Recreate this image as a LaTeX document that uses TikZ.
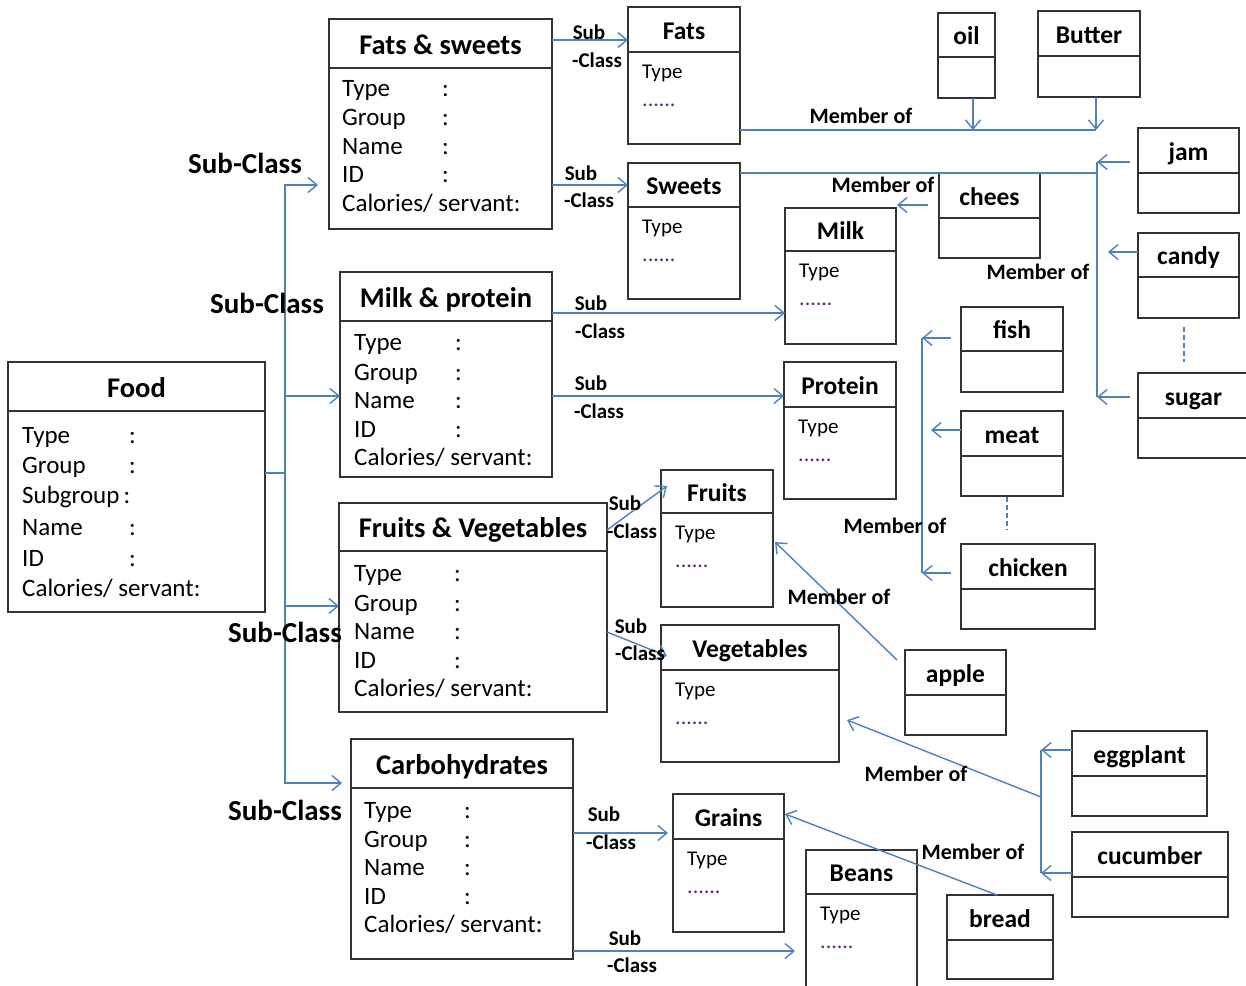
\documentclass[tikz,border=0pt]{standalone}
\usepackage{fontspec}
\setmainfont{Carlito}
\usetikzlibrary{arrows.meta}
\definecolor{conn}{RGB}{79,129,189}
\definecolor{dotc}{RGB}{90,40,110}
\tikzset{
  box/.style={draw=black!80, line width=1.8pt, inner sep=0pt, outer sep=0pt},
  ttl/.style={font=\fontsize{28.5}{30}\selectfont\bfseries, anchor=base, yshift=-9pt, inner sep=0pt},
  sttl/.style={font=\fontsize{25.5}{27}\selectfont\bfseries, anchor=base, yshift=-8pt, inner sep=0pt},
  attr/.style={font=\fontsize{25}{27}\selectfont, anchor=base west, yshift=-8pt, inner sep=0pt},
  sattr/.style={font=\fontsize{21}{23}\selectfont, anchor=base west, yshift=-6.7pt, inner sep=0pt},
  dotsty/.style={font=\fontsize{22}{23}\selectfont, text=dotc, anchor=base west, yshift=-3pt, inner sep=0pt},
  lbl/.style={font=\fontsize{21}{23}\selectfont\bfseries, inner sep=0pt},
  biglbl/.style={font=\fontsize{29}{31}\selectfont\bfseries, inner sep=0pt},
  mem/.style={font=\fontsize{22}{24}\selectfont\bfseries, inner sep=0pt},
  line/.style={draw=conn, line width=1.4pt},
  arr/.style={line, -{Straight Barb[length=9pt,width=15pt]}},
  dashln/.style={draw=conn, line width=1.2pt, dash pattern=on 5pt off 3pt},
}
\newcommand\clsbox[7]{%
  \node[box, anchor=north west, minimum width={#4-#2}, minimum height={#5-#3}] (#1) at (#2,#3) {};
  \draw[box] (#2,#6) -- (#4,#6);
}
\newcommand\bigcls[7]{%
  \clsbox{#1}{#2}{#3}{#4}{#5}{#6}{}%
  \node[ttl] (#1-t) at ({(#2+#4)/2},{(#3+#6)/2+1.5}) {#7};
}
\newcommand\smallcls[7]{%
  \clsbox{#1}{#2}{#3}{#4}{#5}{#6}{}%
  \node[sttl] (#1-t) at ({(#2+#4)/2},{(#3+#6)/2+1.5}) {#7};
}
\newcommand\typedots[3]{% name, x1, header y
  \node[sattr] (#1-ty) at ({#2+14},{#3+20}) {Type};
  \node[dotsty] (#1-dt) at ({#2+14},{#3+51}) {......};
}
\newcommand\bigattrs[8]{%
  \node[attr] (#1-a1) at (#2,#4) {Type};
  \node[attr] (#1-c1) at (#3,#4) {:};
  \node[attr] (#1-a2) at (#2,#5) {Group};
  \node[attr] (#1-c2) at (#3,#5) {:};
  \node[attr] (#1-a3) at (#2,#6) {Name};
  \node[attr] (#1-c3) at (#3,#6) {:};
  \node[attr] (#1-a4) at (#2,#7) {ID};
  \node[attr] (#1-c4) at (#3,#7) {:};
  \node[attr] (#1-a5) at (#2,#8) {Calories/ servant:};
}
\begin{document}
\begin{tikzpicture}[x=1pt,y=-1pt]
\fill[white] (0,0) rectangle (1246,985);
\useasboundingbox (0,0) rectangle (1246,985);

% ---------- big classes
\bigcls{food}{8}{362}{265}{612}{411}{Food}
\node[attr] (food-a1) at (22,435) {Type};
\node[attr] (food-c1) at (129,435) {:};
\node[attr] (food-a2) at (22,465) {Group};
\node[attr] (food-c2) at (129,465) {:};
\node[attr] (food-a3) at (22,495) {Subgroup\,:};
\node[attr] (food-a4) at (22,527) {Name};
\node[attr] (food-c4) at (129,527) {:};
\node[attr] (food-a5) at (22,558) {ID};
\node[attr] (food-c5) at (129,558) {:};
\node[attr] (food-a6) at (22,588) {Calories/ servant:};

\bigcls{fs}{329}{19}{552}{229}{68}{Fats \& sweets}
\bigattrs{fs}{342}{442}{88}{117}{146}{174}{203}
\bigcls{mp}{340}{272}{552}{477}{321}{Milk \& protein}
\bigattrs{mp}{354}{455}{342}{372}{400}{429}{457}
\bigcls{fv}{339}{503}{607}{712}{551}{Fruits \& Vegetables}
\bigattrs{fv}{354}{454}{573}{603}{631}{660}{688}
\bigcls{carb}{351}{739}{573}{959}{788}{Carbohydrates}
\bigattrs{carb}{364}{464}{810}{839}{867}{896}{924}

% ---------- subclasses
\smallcls{fats}{628}{7}{740}{144}{52}{Fats}\typedots{fats}{628}{52}
\smallcls{sweets}{628}{163}{740}{299}{207}{Sweets}\typedots{sweets}{628}{207}
\smallcls{milk}{785}{208}{896}{344}{251}{Milk}\typedots{milk}{785}{251}
\smallcls{protein}{784}{362}{896}{499}{407}{Protein}\typedots{protein}{784}{407}
\smallcls{fruits}{661}{470}{773}{607}{513}{Fruits}\typedots{fruits}{661}{513}
\smallcls{vegetables}{661}{625}{839}{762}{670}{Vegetables}\typedots{vegetables}{661}{670}
\smallcls{grains}{673}{794}{784}{932}{839}{Grains}\typedots{grains}{673}{839}
\smallcls{beans}{806}{850}{917}{995}{894}{Beans}\typedots{beans}{806}{894}

% ---------- members
\smallcls{oil}{938}{13}{995}{98}{57}{oil}
\smallcls{butter}{1038}{11}{1140}{97}{56}{Butter}
\smallcls{jam}{1138}{128}{1239}{213}{173}{jam}
\smallcls{chees}{939}{173}{1040}{258}{218}{chees}
\smallcls{candy}{1138}{233}{1239}{318}{277}{candy}
\smallcls{sugar}{1138}{373}{1249}{458}{418}{sugar}
\smallcls{fish}{961}{307}{1063}{392}{351}{fish}
\smallcls{meat}{961}{411}{1063}{496}{456}{meat}
\smallcls{chicken}{961}{544}{1095}{629}{589}{chicken}
\smallcls{apple}{905}{650}{1006}{735}{695}{apple}
\smallcls{eggplant}{1072}{731}{1207}{816}{776}{eggplant}
\smallcls{cucumber}{1072}{832}{1228}{917}{877}{cucumber}
\smallcls{bread}{947}{895}{1053}{979}{940}{bread}

% ---------- Food sub-class tree
\coordinate (trunk) at (285,473);
\draw[line] (food.east |- trunk) -- (trunk);
\draw[arr, shorten >=11pt] (trunk) |- (fs.west |- 0,185);
\draw[arr] (trunk) |- (mp.west |- 0,396);
\draw[arr] (trunk) |- (fv.west |- 0,606);
\draw[arr, shorten >=9pt] (trunk) |- (carb.west |- 0,783);
\node[biglbl] (sc1) at (245,163) {Sub-Class};
\node[biglbl] (sc2) at (267,303) {Sub-Class};
\node[biglbl] (sc3) at (285,632) {Sub-Class};
\node[biglbl] (sc4) at (285,810) {Sub-Class};

% ---------- sub-class arrows
\draw[arr] (fs.east |- 0,40) -- (fats.west |- 0,40);
\node[lbl] (s1a) at (589,32) {Sub};
\node[lbl] (s1b) at (597,60) {-Class};
\draw[arr] (fs.east |- 0,185) -- (sweets.west |- 0,185);
\node[lbl] (s2a) at (581,173) {Sub};
\node[lbl] (s2b) at (589,200) {-Class};
\draw[arr] (mp.east |- 0,313) -- (milk.west |- 0,313);
\node[lbl] (s3a) at (591,303) {Sub};
\node[lbl] (s3b) at (600,331) {-Class};
\draw[arr] (mp.east |- 0,396) -- (protein.west |- 0,396);
\node[lbl] (s4a) at (591,383) {Sub};
\node[lbl] (s4b) at (599,411) {-Class};
\coordinate (fruitsIn) at (667,486);
\draw[arr] (fv.east |- 0,530) -- (fruitsIn);
\node[lbl] (s5a) at (625,503) {Sub};
\node[lbl] (s5b) at (632,531) {-Class};
\coordinate (vegIn) at (667,656);
\draw[arr] (fv.east |- 0,632) -- (vegIn);
\node[lbl] (s6a) at (631,626) {Sub};
\node[lbl] (s6b) at (640,653) {-Class};
\draw[arr, shorten >=5pt] (carb.east |- 0,833) -- (grains.west |- 0,833);
\node[lbl] (s7a) at (604,814) {Sub};
\node[lbl] (s7b) at (611,842) {-Class};
\draw[arr, shorten >=11pt] (carb.east |- 0,951) -- (beans.west |- 0,951);
\node[lbl] (s8a) at (625,938) {Sub};
\node[lbl] (s8b) at (632,965) {-Class};

% ---------- member-of: fats
\coordinate (oilJ) at (973,130);
\coordinate (butJ) at (1096,130);
\draw[line] (fats.east |- butJ) -- (butJ);
\draw[arr] (oil.south -| oilJ) -- (oilJ);
\draw[arr] (butter.south -| butJ) -- (butJ);
\node[mem] (m1) at (861,116) {Member of};

% ---------- member-of: sweets
\coordinate (swTop) at (1097,162);
\coordinate (swBot) at (1097,397);
\coordinate (swJ) at (1097,173);
\draw[line] (sweets.east |- swJ) -- (swJ);
\draw[line] (swTop) -- (swBot);
\draw[arr, shorten <=8pt] (jam.west |- swTop) -- (swTop);
\coordinate (candyIn) at (1108,252);
\draw[arr] (candy.west |- candyIn) -- (candyIn);
\draw[arr, shorten <=8pt] (sugar.west |- swBot) -- (swBot);
\coordinate (cs1) at (1184,327);
\coordinate (cs2) at (1184,362);
\draw[dashln] (cs1) -- (cs2);
\node[mem] (m2) at (883,185) {Member of};
\node[mem] (m3) at (1038,272) {Member of};

% ---------- chees -> milk
\coordinate (milkIn) at (897,205);
\draw[arr, shorten <=11pt] (chees.west |- milkIn) -- (milkIn);

% ---------- fish, meat, chicken
\coordinate (prTop) at (922,338);
\coordinate (prBot) at (922,573);
\draw[line] (prTop) -- (prBot);
\draw[arr, shorten <=10pt] (fish.west |- prTop) -- (prTop);
\coordinate (meatIn) at (931,430);
\draw[arr] (meat.west |- meatIn) -- (meatIn);
\draw[arr, shorten <=10pt] (chicken.west |- prBot) -- (prBot);
\coordinate (mc1) at (1007,497);
\coordinate (mc2) at (1007,530);
\draw[dashln] (mc1) -- (mc2);
\node[mem] (m4) at (895,526) {Member of};

% ---------- apple -> fruits
\coordinate (appleOut) at (897,660);
\coordinate (fruitsM) at (775,542);
\draw[arr] (appleOut) -- (fruitsM);
\node[mem] (m5) at (839,597) {Member of};

% ---------- eggplant, cucumber -> vegetables
\coordinate (vTop) at (1041,750);
\coordinate (vBot) at (1041,873);
\coordinate (vMid) at (1041,797);
\draw[line] (vTop) -- (vBot);
\draw[arr] (eggplant.west |- vTop) -- (vTop);
\draw[arr] (cucumber.west |- vBot) -- (vBot);
\coordinate (vegM) at (847,720);
\draw[arr] (vMid) -- (vegM);
\node[mem] (m6) at (916,774) {Member of};

% ---------- bread -> grains
\coordinate (breadOut) at (997,895);
\coordinate (grainsM) at (785,814);
\draw[arr] (breadOut) -- (grainsM);
\node[mem] (m7) at (973,852) {Member of};
\end{tikzpicture}
\end{document}
